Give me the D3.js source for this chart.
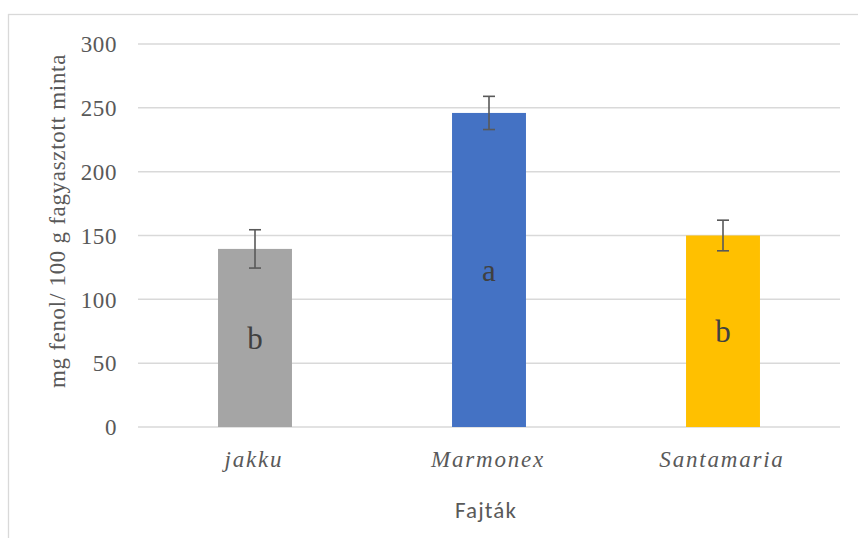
<!DOCTYPE html>
<html>
<head>
<meta charset="utf-8">
<script src="https://cdn.jsdelivr.net/npm/d3@7/dist/d3.min.js"></script>
<style>
  html, body { margin: 0; padding: 0; background: #fff; }
  svg { display: block; }
</style>
</head>
<body>
<script>
// Phenol content per variety (mg / 100 g frozen sample)
const categories = ["jakku", "Marmonex", "Santamaria"];
const means = [139.5, 246, 150];
const errors = [15, 13, 12];
const groupLetters = ["b", "a", "b"];
const barColors = ["#a5a5a5", "#4472c4", "#ffc000"];
const yTicks = [0, 50, 100, 150, 200, 250, 300];

const W = 858, H = 538;
const plot = { left: 138, right: 840, top: 44, bottom: 427 };
const SERIF = '"Liberation Serif", "Times New Roman", serif';
const SANS = 'Carlito, "Liberation Sans", sans-serif';

const svg = d3.select("body").append("svg")
  .attr("width", W).attr("height", H);

// chart area frame
svg.append("rect")
  .attr("x", 8.5).attr("y", 14.5)
  .attr("width", W + 10).attr("height", H + 10)
  .attr("fill", "#fff").attr("stroke", "#d9d9d9").attr("stroke-width", 1.3);

const x = d3.scaleBand().domain(categories)
  .range([plot.left, plot.right]).paddingInner(0.684).paddingOuter(0.342);
const y = d3.scaleLinear().domain([0, 300]).range([plot.bottom, plot.top]);

// gridlines
svg.append("g").selectAll("line").data(yTicks).join("line")
  .attr("x1", plot.left).attr("x2", plot.right)
  .attr("y1", d => y(d)).attr("y2", d => y(d))
  .attr("stroke", "#d9d9d9").attr("stroke-width", 1.5);

// y tick labels
const yAxis = d3.axisLeft(y).tickValues(yTicks).tickSize(0).tickPadding(0);
const gy = svg.append("g").attr("transform", `translate(${plot.left - 21},0)`).call(yAxis);
gy.select(".domain").remove();
gy.attr("font-family", null).attr("font-size", null);
gy.selectAll("text")
  .style("font-family", SERIF).style("font-size", "23px")
  .style("letter-spacing", "0.6px")
  .attr("fill", "#595959").attr("dy", "0.34em");

// bars
const bars = categories.map((c, i) => ({ c, v: means[i], e: errors[i], l: groupLetters[i], col: barColors[i] }));
svg.append("g").selectAll("rect").data(bars).join("rect")
  .attr("x", d => x(d.c)).attr("width", x.bandwidth())
  .attr("y", d => y(d.v)).attr("height", d => y(0) - y(d.v))
  .attr("fill", d => d.col);

// group letters, centred inside the bars
svg.append("g").selectAll("text").data(bars).join("text")
  .attr("x", d => x(d.c) + x.bandwidth() / 2)
  .attr("y", d => y(d.v / 2))
  .attr("dy", "0.36em")
  .attr("text-anchor", "middle")
  .style("font-family", SERIF).style("font-size", "31px")
  .attr("fill", "#404040")
  .text(d => d.l);

// error bars
const eg = svg.append("g").attr("stroke", "#595959").attr("stroke-width", 1.6);
bars.forEach(d => {
  const cx = x(d.c) + x.bandwidth() / 2;
  eg.append("line").attr("x1", cx).attr("x2", cx).attr("y1", y(d.v + d.e)).attr("y2", y(d.v - d.e));
  [d.v + d.e, d.v - d.e].forEach(v => {
    eg.append("line").attr("x1", cx - 6).attr("x2", cx + 6).attr("y1", y(v)).attr("y2", y(v));
  });
});

// category labels
const xAxis = d3.axisBottom(x).tickSize(0).tickPadding(0);
const gx = svg.append("g").attr("transform", `translate(-1,${plot.bottom})`).call(xAxis);
gx.select(".domain").remove();
gx.attr("font-family", null).attr("font-size", null);
gx.selectAll("text")
  .style("font-family", SERIF).style("font-style", "italic")
  .style("font-size", "23px").style("letter-spacing", "1.8px")
  .attr("fill", "#595959")
  .attr("dy", 0).attr("y", 40);

// axis titles
svg.append("text")
  .attr("x", 486).attr("y", 518)
  .attr("text-anchor", "middle")
  .style("font-family", SANS).style("font-size", "23px")
  .style("letter-spacing", "1.1px")
  .attr("fill", "#595959")
  .text("Fajták");

svg.append("text")
  .attr("transform", "translate(65,221) rotate(-90)")
  .attr("text-anchor", "middle")
  .style("font-family", SERIF).style("font-size", "23px")
  .style("letter-spacing", "0.7px")
  .attr("fill", "#595959")
  .text("mg fenol/ 100 g fagyasztott minta");
</script>
</body>
</html>
